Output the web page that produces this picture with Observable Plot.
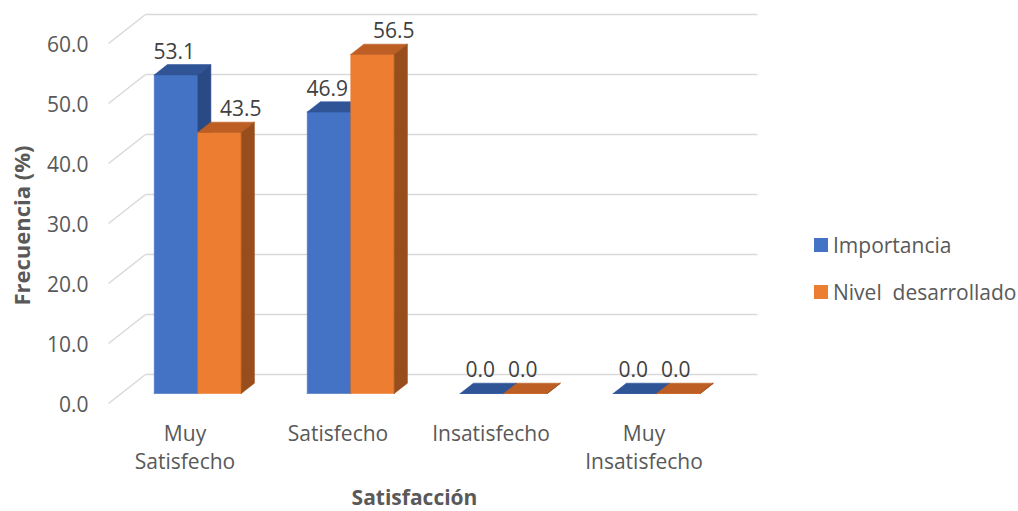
<!DOCTYPE html>
<html><head><meta charset="utf-8">
<script src="https://cdn.jsdelivr.net/npm/d3@7"></script>
<script src="https://cdn.jsdelivr.net/npm/@observablehq/plot@0.6"></script>
<style>
body{margin:0;background:#fff;font-family:"Open Sans",sans-serif;}
#wrap{position:relative;width:1018px;height:511px;}
#legend{position:absolute;left:814px;top:221px;color:#595959;font-size:21px;font-family:"Open Sans",sans-serif;}
.item{display:flex;align-items:center;height:47px;white-space:pre;}
.sw{width:14px;height:14px;margin-right:5px;flex:none;}
</style></head><body>
<div id="wrap"><div id="chart"></div><div id="legend"></div></div>
<script>
// ---- data ----
const categories = ["Muy\nSatisfecho", "Satisfecho", "Insatisfecho", "Muy\nInsatisfecho"];
const seriesNames = ["Importancia", "Nivel  desarrollado"];
const importancia = [53.1, 46.9, 0.0, 0.0];
const nivelDesarrollado = [43.5, 56.5, 0.0, 0.0];
const yTicks = [0, 10, 20, 30, 40, 50, 60];
const xTitle = "Satisfacción";
const yTitle = "Frecuencia (%)";

// ---- styling / geometry ----
const frontColors = ["#4472C4", "#ED7D31"];
const topColors = ["#2F5597", "#BD5E24"];
const sideColors = ["#2A4A85", "#984E1C"];
const textColor = "#595959";
const W = 1018, H = 511;
const mL = 108, mR = 298, mT = 43, mB = 108;
const kx = (W - mL - mR) / 4;      // px per category unit
const ky = (H - mT - mB) / 60;     // px per value unit
const SX = 37 / kx, SY = 29 / ky;  // wall depth in data units
const d1 = 0.345, d2 = 0.7;        // bar depth range (fraction of wall depth)
const bw = 43.5 / kx;              // bar width in category units
const P = (x, y, d) => ({x: x + d * SX, y: y + d * SY});

const series = [importancia, nivelDesarrollado];
const faces = {front: [[], []], top: [[], []], side: [[], []]};
series.forEach((vals, s) => {
  vals.forEach((v, i) => {
    const x0 = i + 0.5 + (s === 0 ? -bw : 0), x1 = x0 + bw;
    const key = s + "-" + i;
    const add = (arr, pts) => { pts.push(pts[0]); pts.forEach(p => arr.push({...p, key})); };
    add(faces.front[s], [P(x0, 0, d1), P(x1, 0, d1), P(x1, v, d1), P(x0, v, d1)]);
    add(faces.top[s], [P(x0, v, d1), P(x1, v, d1), P(x1, v, d2), P(x0, v, d2)]);
    add(faces.side[s], [P(x1, 0, d1), P(x1, 0, d2), P(x1, v, d2), P(x1, v, d1)]);
  });
});

const labels = [];
series.forEach((vals, s) => vals.forEach((v, i) => labels.push({
  x: i + 0.5 + (s === 0 ? -bw / 2 : bw / 2), v, s
})));

const marks = [
  Plot.link(yTicks, {x1: 0, y1: d => d, x2: SX, y2: d => d + SY, stroke: "#d9d9d9", strokeWidth: 1.5}),
  Plot.link(yTicks, {x1: SX, y1: d => d + SY, x2: 4 + SX, y2: d => d + SY, stroke: "#d9d9d9", strokeWidth: 1.5})
];
[0, 1].forEach(s => {
  ["front", "top", "side"].forEach(f => {
    const c = f === "front" ? frontColors[s] : f === "top" ? topColors[s] : sideColors[s];
    marks.push(Plot.line(faces[f][s], {x: "x", y: "y", z: "key", fill: c, stroke: c, strokeWidth: 0.6, curve: "linear"}));
  });
});
const lab = (data, dx) => Plot.text(data, {x: "x", y: "v", text: d => d.v.toFixed(1), dy: -33, dx, fill: "#404040", fontSize: 21});
marks.push(
  Plot.text(yTicks, {x: 0, y: d => d, text: d => d.toFixed(1), textAnchor: "end", dx: -20, dy: 2, fill: textColor, fontSize: 21}),
  Plot.text(categories, {x: (d, i) => i + 0.5, y: 0, text: d => d, lineAnchor: "top", lineHeight: 1.33, dy: 18, fill: textColor, fontSize: 21}),
  lab(labels.filter(d => d.s === 0), 11),
  lab(labels.filter(d => d.s === 1 && d.v > 0), 34),
  lab(labels.filter(d => d.s === 1 && d.v === 0), 10),
  Plot.text([xTitle], {frameAnchor: "bottom", lineAnchor: "middle", textAnchor: "middle", dy: 95, fontWeight: "bold", fill: textColor, fontSize: 21}),
  Plot.text([yTitle], {frameAnchor: "left", textAnchor: "middle", lineAnchor: "middle", rotate: -90, dx: -86, dy: 2, fontWeight: "bold", fill: textColor, fontSize: 22})
);

const chart = Plot.plot({
  width: W, height: H,
  marginLeft: mL, marginRight: mR, marginTop: mT, marginBottom: mB,
  x: {domain: [0, 4], axis: null},
  y: {domain: [0, 60], axis: null},
  style: {fontFamily: "'Open Sans', sans-serif", background: "#fff", overflow: "visible"},
  marks
});
document.getElementById("chart").append(chart);

const legend = document.getElementById("legend");
seriesNames.forEach((n, s) => {
  const it = document.createElement("div"); it.className = "item";
  const sw = document.createElement("span"); sw.className = "sw"; sw.style.background = frontColors[s];
  const tx = document.createElement("span"); tx.textContent = n;
  it.append(sw, tx); legend.append(it);
});
</script></body></html>
